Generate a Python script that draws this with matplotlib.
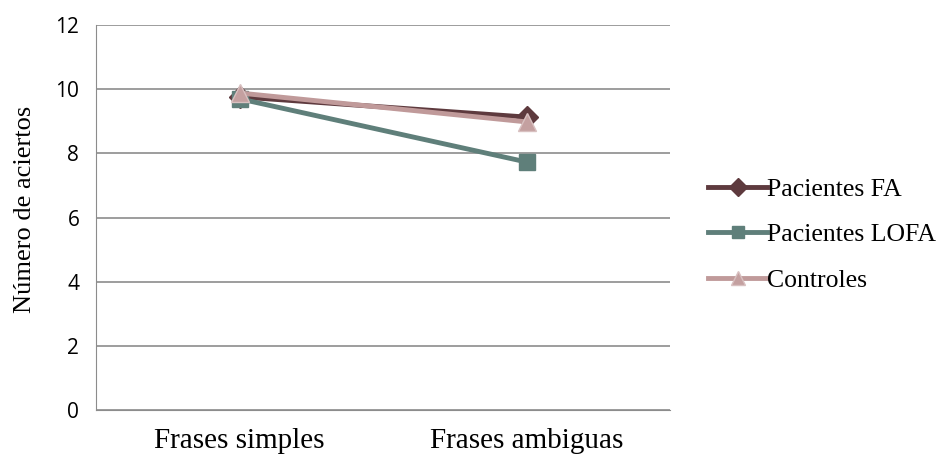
import matplotlib
matplotlib.use("Agg")
import matplotlib.pyplot as plt

categories = ["Frases simples", "Frases ambiguas"]
pacientes_fa = [9.76, 9.13]
pacientes_lofa = [9.7, 7.73]
controles = [9.88, 8.98]
y_ticks = [0, 2, 4, 6, 8, 10, 12]

fig = plt.figure(figsize=(9.46, 4.57), dpi=100)
ax = fig.add_axes([96 / 946, 1 - 410 / 457, 574 / 946, 385 / 457])

x = range(len(categories))
ax.plot(x, pacientes_fa, color="#5e3a3e", lw=3.5, marker="D", ms=11,
        mec="#5e3a3e", label="Pacientes FA", zorder=3)
ax.plot(x, pacientes_lofa, color="#5f7f7a", lw=3.5, marker="s", ms=11,
        mec="#5f7f7a", label="Pacientes LOFA", zorder=3)
ax.plot(x, controles, color="#c09a9a", lw=3.5, marker="^", ms=13,
        mfc="#c4a0a0", mec="#d8c0c0", label="Controles", zorder=4)

ax.set_xlim(-0.5, 1.5)
ax.set_ylim(0, 12)
ax.set_yticks(y_ticks)
ax.set_yticklabels([str(v) for v in y_ticks], fontfamily="Open Sans", fontsize=15)
ax.set_xticks(list(x))
ax.set_xticklabels(categories, fontfamily="Liberation Serif", fontsize=21)
ax.tick_params(axis="y", length=0, pad=12)
ax.tick_params(axis="x", length=0, pad=13)
ax.grid(axis="y", color="#8c8c8c", lw=1.2)
ax.set_axisbelow(True)
for side in ["top", "right"]:
    ax.spines[side].set_visible(False)
ax.spines["left"].set_color("#8c8c8c")
ax.spines["bottom"].set_color("#8c8c8c")
ax.set_ylabel("Número de aciertos", fontfamily="Liberation Serif", fontsize=19)
ax.yaxis.set_label_coords(-0.1045, 0.52)

leg = fig.legend(loc="upper left", bbox_to_anchor=(685 / 946, 1 - 155 / 457),
                 frameon=False, prop={"family": "Liberation Serif", "size": 18.5},
                 handlelength=2.3, handletextpad=0.0, labelspacing=0.87,
                 markerscale=0.8)

fig.savefig("out.png", dpi=100)
